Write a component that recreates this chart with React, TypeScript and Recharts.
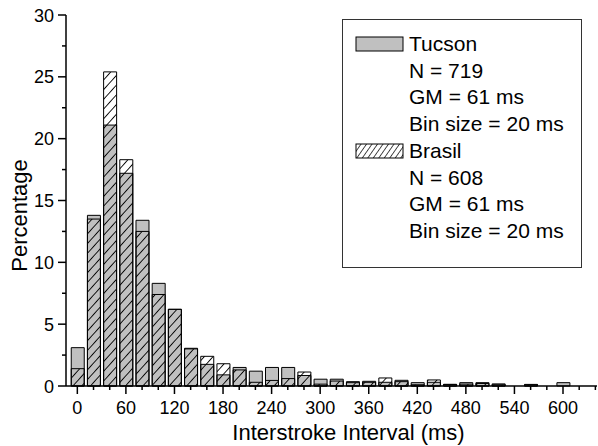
import { BarChart, Bar, XAxis, YAxis } from 'recharts';

// bin centres (ms), bin size 20 ms
const bins = [0, 20, 40, 60, 80, 100, 120, 140, 160, 180, 200, 220, 240, 260, 280, 300, 320, 340, 360, 380, 400, 420, 440, 460, 480, 500, 520, 540, 560, 580, 600];
const tucson = [3.1, 13.8, 21.1, 17.2, 13.4, 8.3, 6.2, 3.05, 1.75, 0.9, 1.5, 1.2, 1.5, 1.5, 0.85, 0.55, 0.55, 0.35, 0.38, 0.3, 0.46, 0.27, 0.3, 0.13, 0.27, 0.27, 0.17, 0, 0.1, 0, 0.27];
const brasil = [1.4, 13.5, 25.4, 18.3, 12.5, 7.4, 6.2, 3.0, 2.4, 1.8, 1.3, 0.3, 0.45, 0.6, 1.13, 0.15, 0.4, 0.27, 0.3, 0.65, 0.35, 0.1, 0.49, 0.13, 0.15, 0.2, 0.1, 0, 0.13, 0, 0];

const xTicks = [0, 20, 40, 60, 80, 100, 120, 140, 160, 180, 200, 220, 240, 260, 280, 300, 320, 340, 360, 380, 400, 420, 440, 460, 480, 500, 520, 540, 560, 580, 600, 620, 640];
const yTicks = [0, 2.5, 5, 7.5, 10, 12.5, 15, 17.5, 20, 22.5, 25, 27.5, 30];

const tucsonLines = ['Tucson', 'N = 719', 'GM = 61 ms', 'Bin size = 20 ms'];
const brasilLines = ['Brasil', 'N = 608', 'GM = 61 ms', 'Bin size = 20 ms'];

const FONT = 'Arial, "Liberation Sans", sans-serif';

const data = bins.map((b, i) => ({ bin: b, tucson: tucson[i], brasil: brasil[i] }));

const XTick = ({ x, y, payload }: any) => {
  const major = payload.value % 60 === 0;
  return (
    <g>
      <line x1={x} x2={x} y1={y} y2={y + (major ? 8 : 4)} stroke="#000" strokeWidth={1.5} />
      {major && payload.value <= 600 && (
        <text x={x} y={y + 28} textAnchor="middle" fontSize={18} fontFamily={FONT} fill="#000">
          {payload.value}
        </text>
      )}
    </g>
  );
};

const YTick = ({ x, y, payload }: any) => {
  const major = payload.value % 5 === 0;
  return (
    <g>
      <line x1={x} x2={x - (major ? 8 : 4)} y1={y} y2={y} stroke="#000" strokeWidth={1.5} />
      {major && (
        <text x={x - 12} y={y + 6.5} textAnchor="end" fontSize={18} fontFamily={FONT} fill="#000">
          {payload.value}
        </text>
      )}
    </g>
  );
};

function LegendBox() {
  const rows = [...tucsonLines, ...brasilLines];
  return (
    <div style={{ position: 'absolute', left: 342, top: 19, width: 240, height: 249, border: '1px solid #333', boxSizing: 'border-box', background: '#fff' }}>
      <svg width={240} height={249}>
        <rect x={13} y={17} width={47} height={14} fill="#c0c0c0" stroke="#000" strokeWidth={1} />
        <rect x={13} y={124} width={47} height={14} fill="url(#hatchLegend)" stroke="#000" strokeWidth={1} />
        {rows.map((t, i) => (
          <text key={i} x={66} y={31 + i * 26.7} fontSize={21} fontFamily={FONT} fill="#000">
            {t}
          </text>
        ))}
      </svg>
    </div>
  );
}

export default function App() {
  return (
    <div style={{ position: 'absolute', left: 0, top: 0, width: 598, height: 446, background: '#fff' }}>
      <svg width={0} height={0} style={{ position: 'absolute' }}>
        <defs>
          <pattern id="hatch" patternUnits="userSpaceOnUse" width={6.5} height={6.5} patternTransform="rotate(42)">
            <line x1={0} y1={0} x2={0} y2={6.5} stroke="#000" strokeWidth={1.8} />
          </pattern>
          <pattern id="hatchLegend" patternUnits="userSpaceOnUse" width={4.5} height={4.5} patternTransform="rotate(35)">
            <line x1={0} y1={0} x2={0} y2={4.5} stroke="#000" strokeWidth={1.4} />
          </pattern>
        </defs>
      </svg>
      <BarChart width={598} height={446} data={data} margin={{ top: 15, right: 1, bottom: 30, left: 6 }}>
        <XAxis
          xAxisId="a"
          dataKey="bin"
          type="number"
          domain={[-14, 642]}
          ticks={xTicks}
          interval={0}
          tick={<XTick />}
          tickSize={0}
          tickMargin={0}
          tickLine={false}
          height={30}
          axisLine={{ stroke: '#000', strokeWidth: 1.5 }}
          label={{
            content: ({ viewBox }: any) => (
              <text x={viewBox.x + viewBox.width / 2 + 17} y={viewBox.y + viewBox.height + 24} textAnchor="middle" fontSize={22} fontFamily={FONT} fill="#000">
                Interstroke Interval (ms)
              </text>
            ),
          }}
        />
        <XAxis xAxisId="b" dataKey="bin" type="number" domain={[-14, 642]} hide />
        <YAxis
          domain={[0, 30]}
          ticks={yTicks}
          interval={0}
          width={60}
          tick={<YTick />}
          tickSize={0}
          tickMargin={0}
          tickLine={false}
          axisLine={{ stroke: '#000', strokeWidth: 1.5 }}
          label={{
            content: ({ viewBox }: any) => (
              <text transform={`translate(27, ${viewBox.y + viewBox.height / 2 + 15}) rotate(-90)`} textAnchor="middle" fontSize={22} fontFamily={FONT} fill="#000">
                Percentage
              </text>
            ),
          }}
        />
        <Bar xAxisId="a" dataKey="tucson" fill="#c0c0c0" stroke="#000" strokeWidth={1} barSize={13} isAnimationActive={false} />
        <Bar xAxisId="b" dataKey="brasil" fill="url(#hatch)" stroke="#000" strokeWidth={1} barSize={13} isAnimationActive={false} />
      </BarChart>
      <LegendBox />
    </div>
  );
}
